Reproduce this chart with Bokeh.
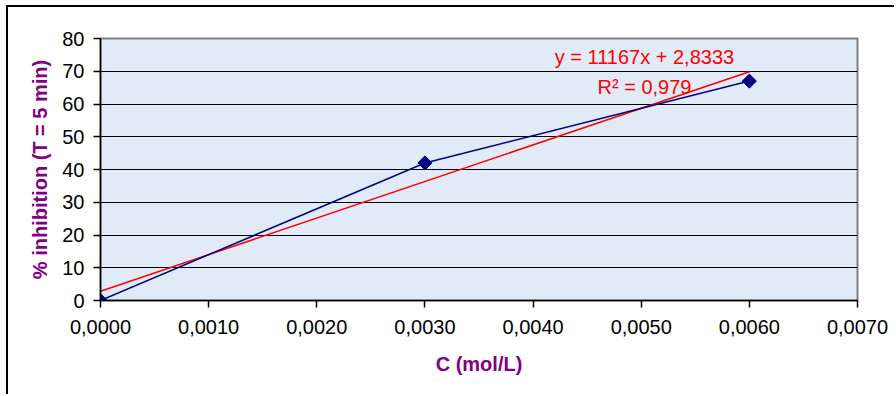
from bokeh.plotting import figure
from bokeh.embed import file_html
from bokeh.resources import INLINE
from bokeh.models import Range1d, FixedTicker, CustomJSTickFormatter, Label
from bokeh.core.properties import value

# data
conc = [0.0, 0.003, 0.006]
inhibition = [0.0, 42.0, 67.0]
slope = 11167.0
intercept = 2.8333
eq_text = "y = 11167x + 2,8333"
r2_text = "R\u00b2 = 0,979"
x_ticks = [0.0, 0.001, 0.002, 0.003, 0.004, 0.005, 0.006, 0.007]
y_ticks = [0, 10, 20, 30, 40, 50, 60, 70, 80]

FONT = "Liberation Sans"
PURPLE = "#800080"

p = figure(width=888, height=389, output_backend="svg", toolbar_location=None,
           x_range=Range1d(0, 0.007), y_range=Range1d(0, 80),
           min_border_left=92, min_border_top=31, min_border_right=39, min_border_bottom=96,
           background_fill_color="#e0ebf7", border_fill_color="white",
           styles={"border-top": "2px solid black", "border-left": "2px solid black",
                   "margin-left": "6px", "margin-top": "5px"})

p.outline_line_color = "#808080"
p.outline_line_width = 2

p.xgrid.visible = False
p.ygrid.grid_line_color = "black"
p.ygrid.grid_line_width = 1
p.ygrid.ticker = FixedTicker(ticks=y_ticks)

for ax in (p.xaxis[0], p.yaxis[0]):
    ax.axis_line_color = "black"
    ax.axis_line_width = 1.5
    ax.major_tick_line_color = "black"
    ax.major_tick_line_width = 1.5
    ax.major_tick_in = 0
    ax.major_tick_out = 7
    ax.minor_tick_line_color = None
    ax.major_label_text_font = FONT
    ax.major_label_text_font_size = "20px"
    ax.major_label_text_color = "black"
    ax.axis_label_text_font = FONT
    ax.axis_label_text_font_size = "20px"
    ax.axis_label_text_font_style = "bold"
    ax.axis_label_text_color = PURPLE

p.xaxis.ticker = FixedTicker(ticks=x_ticks)
p.xaxis.formatter = CustomJSTickFormatter(code="return tick.toFixed(4).replace('.', ',');")
p.xaxis.axis_label = "C (mol/L)"
p.xaxis.major_label_standoff = 12
p.xaxis.axis_label_standoff = 16

p.yaxis.ticker = FixedTicker(ticks=y_ticks)
p.yaxis.axis_label = "% inhibition (T = 5 min)"
p.yaxis.major_label_standoff = 9
p.yaxis.axis_label_standoff = 8

# trend line
tx = [min(conc), max(conc)]
ty = [slope * x + intercept for x in tx]
p.line(tx, ty, line_color="red", line_width=1.5)

# data series
p.line(conc, inhibition, line_color="#000080", line_width=1.5)
p.scatter(conc, inhibition, marker="square", angle=0.785398, size=10,
          fill_color="#000080", line_color="#000080")

p.add_layout(Label(x=0.00503, y=74.2, text=eq_text, text_align="center", text_baseline="middle",
                   text_font=FONT, text_font_size="20px", text_color="red"))
p.add_layout(Label(x=0.00503, y=65.3, text=r2_text, text_align="center", text_baseline="middle",
                   text_font=FONT, text_font_size="20px", text_color="red"))

open("out.html", "w").write(file_html(p, INLINE))
